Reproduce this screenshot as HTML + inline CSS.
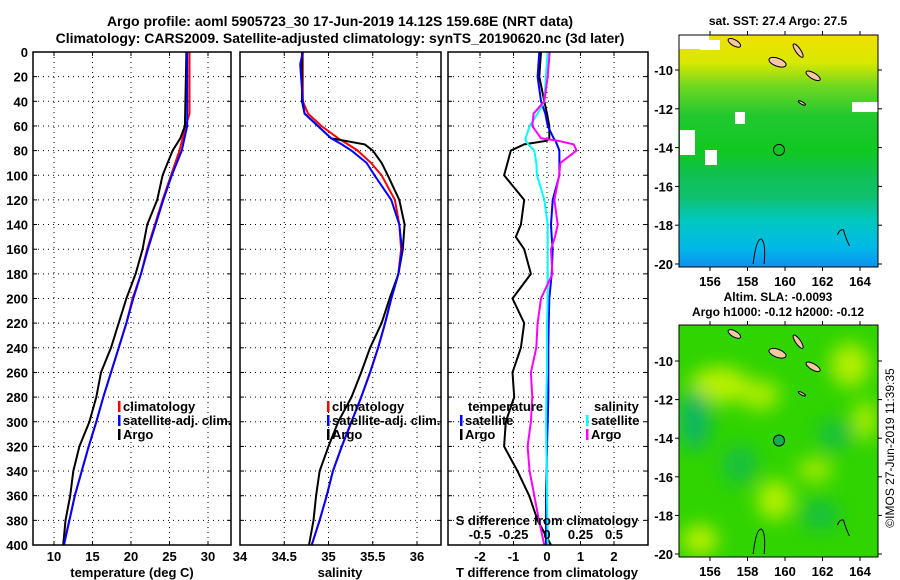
<!DOCTYPE html>
<html><head><meta charset="utf-8"><style>
body{margin:0;background:#fff;}
svg{display:block;font-family:"Liberation Sans",Arial,sans-serif;font-weight:bold;}
</style></head><body>
<svg id="chart" width="900" height="580" viewBox="0 0 900 580" xmlns="http://www.w3.org/2000/svg">
<defs>
<linearGradient id="sstg" x1="0" y1="0" x2="0" y2="1">
<stop offset="0" stop-color="#f0e000"/><stop offset="0.12" stop-color="#d8e800"/><stop offset="0.22" stop-color="#70d820"/><stop offset="0.35" stop-color="#20c830"/><stop offset="0.5" stop-color="#10c820"/><stop offset="0.6" stop-color="#10c050"/><stop offset="0.7" stop-color="#10c070"/><stop offset="0.8" stop-color="#00c8c0"/><stop offset="0.92" stop-color="#00b8e8"/><stop offset="1" stop-color="#1090f0"/>
</linearGradient>
<filter id="blur"><feGaussianBlur stdDeviation="9"/></filter>
<clipPath id="m1c"><rect x="679" y="35" width="199" height="232"/></clipPath>
<clipPath id="m2c"><rect x="679" y="325" width="199" height="232"/></clipPath>
</defs>
<text x="340" y="26" font-size="14" text-anchor="middle">Argo profile: aoml 5905723_30 17-Jun-2019 14.12S 159.68E (NRT data)</text>
<text x="340" y="43" font-size="14" text-anchor="middle">Climatology: CARS2009. Satellite-adjusted climatology: synTS_20190620.nc (3d later)</text>
<g id="layer"></g>
</svg>
<script>
// depth levels (dbar)
const depthT = [0,60,70,80,100,120,140,160,180,200,220,240,260,280,300,320,340,360,380,400];
const argoTemp = [27.2,27.0,26.4,25.4,24.1,23.4,22.1,21.5,20.6,19.4,18.4,17.4,16.1,15.5,14.6,13.3,12.5,12.1,11.5,11.2];
const climTempDepth = [0,50,60,80,100,120,140,160,180,200,220,240,260,280,300,320,340,360,380,400];
const climTemp = [27.6,27.6,27.1,26.3,25.2,24.1,23.1,22.1,21.3,20.2,19.4,18.4,17.4,16.4,15.5,14.5,13.6,12.7,12.0,11.2];
const satTemp = [27.3,27.3,27.3,26.6,25.3,24.2,23.2,22.2,21.3,20.3,19.4,18.4,17.4,16.4,15.5,14.5,13.6,12.7,12.0,11.3];
const depthS = [0,10,40,50,60,70,75,80,90,100,120,140,160,180,200,220,240,260,280,300,320,340,360,380,400];
const argoSal = [34.70,34.70,34.70,34.73,34.88,35.03,35.41,35.50,35.60,35.67,35.80,35.86,35.84,35.79,35.69,35.60,35.47,35.37,35.26,35.11,35.00,34.90,34.86,34.83,34.78];
const climSal = [34.71,34.71,34.71,34.77,34.92,35.11,35.22,35.33,35.48,35.60,35.75,35.80,35.82,35.79,35.71,35.64,35.56,35.47,35.37,35.26,35.15,35.05,34.98,34.90,34.81];
const satSal = [34.71,34.68,34.71,34.73,34.88,35.03,35.15,35.26,35.43,35.52,35.71,35.80,35.83,35.79,35.71,35.64,35.56,35.47,35.37,35.26,35.15,35.05,34.98,34.90,34.81];
const depthD = [0,20,40,50,60,70,72,75,80,90,100,120,140,150,160,180,200,220,240,260,280,300,320,340,360,380,400];
const argoTdiff = [-0.18,-0.23,-0.08,0.0,0.07,0.07,0.0,-0.68,-1.08,-1.18,-1.28,-0.68,-0.78,-0.93,-0.68,-0.48,-1.03,-0.68,-0.78,-1.03,-0.98,-1.23,-1.28,-0.88,-0.53,-0.28,0.12];
const satTdiff = [-0.23,-0.28,-0.18,-0.05,0.02,0.2,0.25,0.3,0.37,0.37,0.37,0.17,0.12,0.14,0.17,0.14,0.07,0.05,0.04,0.04,0.04,0.02,0.0,-0.01,-0.03,-0.03,-0.03];
const argoSdiff = [0.02,0.005,-0.02,-0.1,-0.11,-0.045,0.08,0.2,0.22,0.1,0.09,0.055,0.08,0.06,0.03,0.04,-0.045,-0.07,-0.08,-0.12,-0.11,-0.12,-0.145,-0.13,-0.095,-0.06,-0.02];
const satSdiff = [0.005,-0.008,-0.02,-0.07,-0.13,-0.16,-0.16,-0.14,-0.095,-0.08,-0.075,-0.02,0.005,0.005,0.005,0.005,0.005,0.0,0.0,0.0,-0.005,-0.007,-0.005,0.0,0.0,0.003,0.005];
const depthTicks = [0,20,40,60,80,100,120,140,160,180,200,220,240,260,280,300,320,340,360,380,400];
const tempTicks = [10,15,20,25,30];
const salTicks = [34,34.5,35,35.5,36];
const tdTicks = [-2,-1,0,1,2];
const sdTicks = [-0.5,-0.25,0,0.25,0.5];
const lonTicks = [156,158,160,162,164];
const latTicks = [-10,-12,-14,-16,-18,-20];

const NS='http://www.w3.org/2000/svg';
const L=document.getElementById('layer');
function mk(tag,at,parent){const e=document.createElementNS(NS,tag);for(const k in at)e.setAttribute(k,at[k]);(parent||L).appendChild(e);return e;}
const Y0=52,Y1=545;
const yD=d=>Y0+d*(Y1-Y0)/400;
function lin(d0,d1,p0,p1){return v=>p0+(v-d0)*(p1-p0)/(d1-d0);}
const panels=[
 {x0:33,x1:231,sx:lin(10,30,54,208),ticks:tempTicks,name:'temperature-panel'},
 {x0:240,x1:441,sx:lin(34,36,240,417),ticks:salTicks,name:'salinity-panel'},
 {x0:448,x1:648,sx:lin(0,2,547,614),ticks:tdTicks,name:'difference-panel'}
];
panels.forEach((p,i)=>{
  const g=mk('g',{});
  
  
  p.g=g;
  depthTicks.forEach(d=>{ if(d>0&&d<400){
    const l=mk('line',{x1:p.x0,x2:p.x1,y1:yD(d),y2:yD(d),stroke:'#000','stroke-width':1,'stroke-dasharray':'1 4'},g);
    
    mk('line',{x1:p.x0,x2:p.x0+4,y1:yD(d),y2:yD(d),stroke:'#000'},g);
    mk('line',{x1:p.x1-4,x2:p.x1,y1:yD(d),y2:yD(d),stroke:'#000'},g);
  }});
  p.ticks.forEach(t=>{const x=p.sx(t); if(x>p.x0+1&&x<p.x1-1){
    const l=mk('line',{x1:x,x2:x,y1:Y0,y2:Y1,stroke:'#000','stroke-width':1,'stroke-dasharray':'1 4'},g);
    
    mk('line',{x1:x,x2:x,y1:Y0,y2:Y0+4,stroke:'#000'},g);
    mk('line',{x1:x,x2:x,y1:Y1-4,y2:Y1,stroke:'#000'},g);
  }
  const tx=mk('text',{x:x,y:561,'font-size':13,'text-anchor':'middle'},g);tx.textContent=t;
  
  });
});
depthTicks.forEach(d=>{const t=mk('text',{x:28,y:yD(d)+5,'font-size':13,'text-anchor':'end'});t.textContent=d;
 });
function line(p,xs,ds,f,col,name){
  const pts=xs.map((v,i)=>f(v).toFixed(1)+','+yD(ds[i]).toFixed(1)).join(' ');
  const e=mk('polyline',{points:pts,fill:'none',stroke:col,'stroke-width':2},p.g);
  
}
const P=panels;
line(P[0],climTemp,climTempDepth,P[0].sx,'#ff0000','climatology-temp-line');
line(P[0],argoTemp,depthT,P[0].sx,'#000','argo-temp-line');
line(P[0],satTemp,climTempDepth,P[0].sx,'#0000ff','satellite-temp-line');
line(P[1],climSal,depthS,P[1].sx,'#ff0000','climatology-sal-line');
line(P[1],argoSal,depthS,P[1].sx,'#000','argo-sal-line');
line(P[1],satSal,depthS,P[1].sx,'#0000ff','satellite-sal-line');
const sS=lin(0,0.5,547,614);
line(P[2],argoTdiff,depthD,P[2].sx,'#000','argo-tdiff-line');
line(P[2],satTdiff,depthD,P[2].sx,'#0000ff','satellite-tdiff-line');
line(P[2],satSdiff,depthD,sS,'#00ffff','satellite-sdiff-line');
line(P[2],argoSdiff,depthD,sS,'#ff00ff','argo-sdiff-line');
panels.forEach(p=>{const r=mk('rect',{x:p.x0,y:Y0,width:p.x1-p.x0,height:Y1-Y0,fill:'none',stroke:'#000','stroke-width':1.5},p.g);
 });
function txt(x,y,s,size,anchor,name,parent){const t=mk('text',{x:x,y:y,'font-size':size||13,'text-anchor':anchor||'start'},parent);t.textContent=s;
 return t;}
function legend(x,y,col,label,name){const g=mk('g',{});
 mk('rect',{x:x,y:y-10,width:2.5,height:11,fill:col},g);txt(x+5,y,label,13,'start','legend-label',g);}
legend(118,411,'#ff0000','climatology','legend-climatology');
legend(118,425,'#0000ff','satellite-adj. clim.','legend-satellite-adj');
legend(118,439,'#000','Argo','legend-argo');
legend(327,411,'#ff0000','climatology','legend-climatology-sal');
legend(327,425,'#0000ff','satellite-adj. clim.','legend-satellite-adj-sal');
legend(327,439,'#000','Argo','legend-argo-sal');
txt(468,411,'temperature',13,'start','legend-header-temperature');
legend(460,425,'#0000ff','satellite','legend-temp-satellite');
legend(460,439,'#000','Argo','legend-temp-argo');
txt(594,411,'salinity',13,'start','legend-header-salinity');
legend(586,425,'#00ffff','satellite','legend-sal-satellite');
legend(586,439,'#ff00ff','Argo','legend-sal-argo');
txt(547,525,'S difference from climatology',13,'middle','s-axis-title');
sdTicks.forEach(s=>txt(sS(s),539,s,13,'middle','s-tick-label'));
txt(132,577,'temperature (deg C)',13,'middle','x-axis-title-temperature');
txt(340,577,'salinity',13,'middle','x-axis-title-salinity');
txt(547,577,'T difference from climatology',13,'middle','x-axis-title-tdiff');

// maps
const lonX=lin(156,164,710,860);
function drawMap(top,lat10,lat20,clip,name,kind){
  const g=mk('g',{});
  const latY=lin(-10,-20,lat10,lat20);
  const inner=mk('g',{'clip-path':'url(#'+clip+')'},g);
  if(kind==='sst'){
    mk('rect',{x:679,y:top,width:199,height:232,fill:'url(#sstg)'},inner);
    [[700,top+5,20,10],[680,top+95,15,25],[705,top+115,12,15],[735,top+77,10,12],[852,top+67,26,10]].forEach(r=>mk('rect',{x:r[0],y:r[1],width:r[2],height:r[3],fill:'#fff'},inner));
    mk('rect',{x:679,y:top,width:30,height:14,fill:'#fff'},inner);
  } else {
    mk('rect',{x:679,y:top,width:199,height:232,fill:'#30d400'},inner);
    const bg=mk('g',{filter:'url(#blur)'},inner);
    [[720,top+60,30,18,'#b8f000'],[760,top+70,20,15,'#a8ec00'],[850,top+40,20,22,'#b0ee00'],[775,top+175,18,20,'#b0f000'],[815,top+145,18,12,'#a0ea00'],[700,top+215,18,15,'#b8f000'],[865,top+95,12,20,'#a8ec00'],[695,top+95,16,30,'#10b860'],[740,top+140,18,20,'#18c040'],[835,top+110,18,15,'#18c040'],[820,top+190,20,15,'#18c040']].forEach(b=>mk('ellipse',{cx:b[0],cy:b[1],rx:b[2],ry:b[3],fill:b[4]},bg));
  }
  [[lonX(157.3),latY(-8.6),7,3,30],[lonX(159.6),latY(-9.6),9,4,20],[lonX(160.7),latY(-9),8,2.5,55],[lonX(161.5),latY(-10.3),8,3,30],[lonX(160.9),latY(-11.7),4,1.2,30]].forEach(e=>{
    const el=mk('ellipse',{cx:e[0],cy:e[1],rx:e[2],ry:e[3],fill:'#f8c8a0',stroke:'#000','stroke-width':1,transform:'rotate('+e[4]+' '+e[0]+' '+e[1]+')'},inner);
    });
  mk('path',{d:'M'+lonX(158.3)+' '+latY(-20)+' q3 -25 8 -25 q5 3 3 25',fill:'none',stroke:'#000','stroke-width':1},inner);
  mk('path',{d:'M'+lonX(162.8)+' '+latY(-18.5)+' q2 -6 6 -5 q2 8 6 16',fill:'none',stroke:'#000','stroke-width':1},inner);
  const c=mk('circle',{cx:lonX(159.68),cy:latY(-14.12),r:5.5,fill:kind==='sst'?'none':'#10b050',stroke:'#000','stroke-width':1},g);
  
  mk('rect',{x:679,y:top,width:199,height:232,fill:'none',stroke:'#000','stroke-width':1},g);
  lonTicks.forEach(l=>{const x=lonX(l);mk('line',{x1:x,x2:x,y1:top,y2:top-4,stroke:'#000'},g);mk('line',{x1:x,x2:x,y1:top+232,y2:top+236,stroke:'#000'},g);
    txt(x,top+251,l,13,'middle','lon-tick-label',g);});
  latTicks.forEach(l=>{const y=latY(l);mk('line',{x1:679,x2:675,y1:y,y2:y,stroke:'#000'},g);mk('line',{x1:878,x2:882,y1:y,y2:y,stroke:'#000'},g);
    txt(673,y+5,l,13,'end','lat-tick-label',g);});
}
drawMap(35,70,264,'m1c','sst-map','sst');
drawMap(325,361,554,'m2c','sla-map','sla');
txt(778,25,'sat. SST: 27.4 Argo: 27.5',12,'middle','sst-map-title');
txt(778,301,'Altim. SLA: -0.0093',12,'middle','sla-map-title-1');
txt(778,316,'Argo h1000: -0.12 h2000: -0.12',12,'middle','sla-map-title-2');
const ts=txt(0,0,'©IMOS 27-Jun-2019 11:39:35',12,'middle','timestamp');
ts.setAttribute('font-weight','normal');
ts.setAttribute('transform','translate(894,448) rotate(-90)');
</script>
</body></html>
